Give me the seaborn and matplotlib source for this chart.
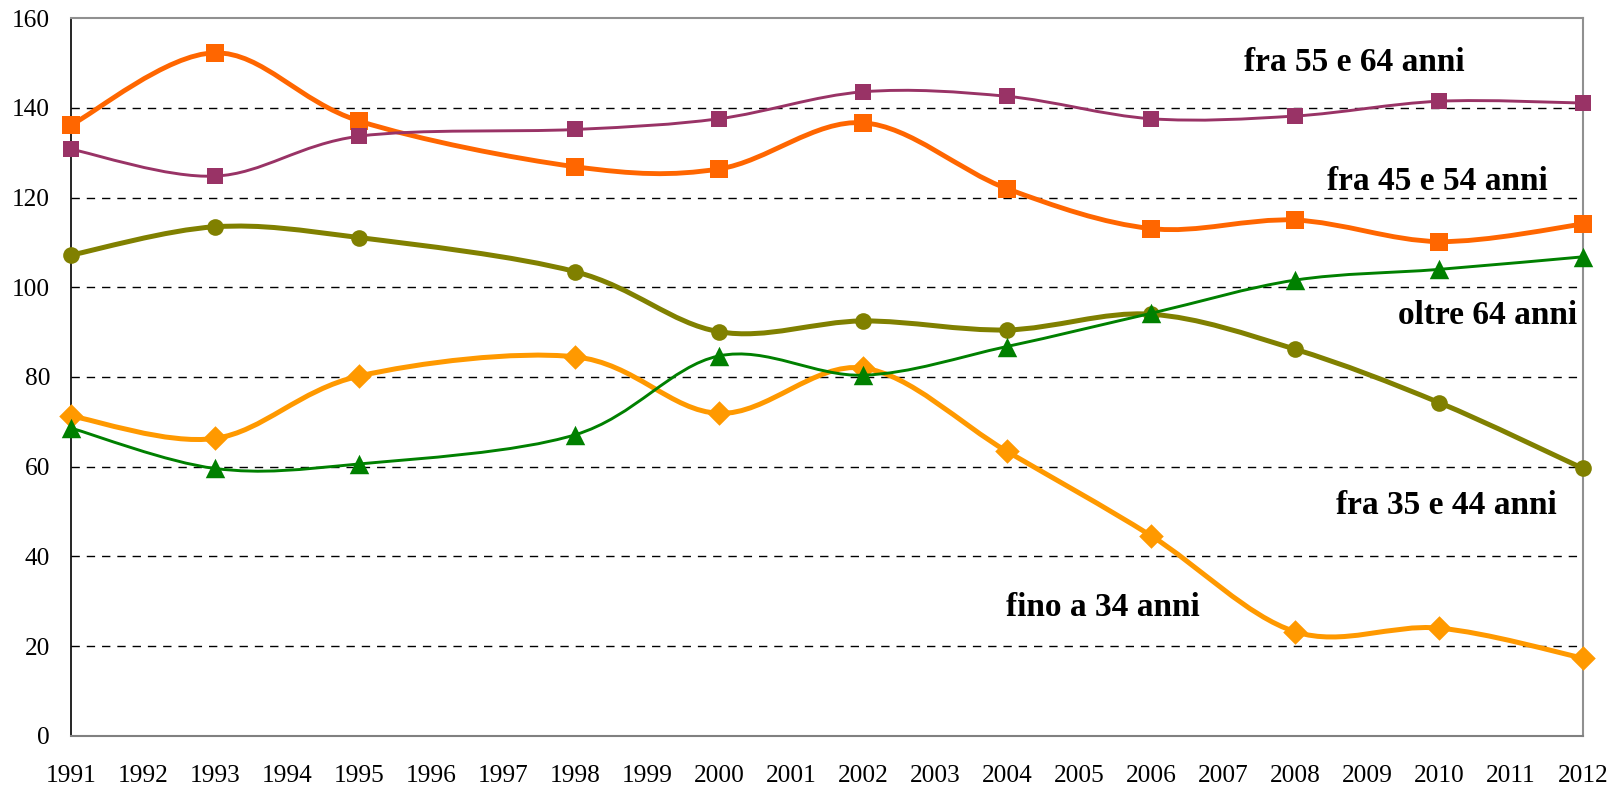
import numpy as np
import pandas as pd
import matplotlib
matplotlib.use("Agg")
import matplotlib.pyplot as plt
import seaborn as sns
from matplotlib.path import Path
from matplotlib.patches import PathPatch

# anni con dato (l'asse e' a scala di date, quindi 1995 -> 1998 salta 3 anni)
years = [1991, 1993, 1995, 1998, 2000, 2002, 2004, 2006, 2008, 2010, 2012]

fino_34 = [71.3, 66.3, 80.2, 84.5, 71.9, 82.0, 63.4, 44.6, 23.2, 24.0, 17.3]
fra_35_44 = [107.2, 113.5, 111.1, 103.5, 90.1, 92.5, 90.5, 94.0, 86.2, 74.3, 59.6]
fra_45_54 = [136.2, 152.3, 137.1, 126.9, 126.4, 136.7, 122.0, 113.1, 115.0, 110.2, 114.1]
fra_55_64 = [130.8, 124.8, 133.7, 135.2, 137.6, 143.6, 142.6, 137.6, 138.2, 141.5, 141.1]
oltre_64 = [68.6, 59.6, 60.6, 67.1, 84.7, 80.4, 86.8, 94.2, 101.6, 104.0, 106.8]

series_names = ["fino a 34 anni", "fra 35 e 44 anni", "fra 45 e 54 anni",
                "fra 55 e 64 anni", "oltre 64 anni"]
series_values = [fino_34, fra_35_44, fra_45_54, fra_55_64, oltre_64]

x_ticks = list(range(1991, 2013))
y_ticks = list(range(0, 161, 20))

df = pd.DataFrame({"anno": years * len(series_names),
                   "valore": sum(series_values, []),
                   "serie": np.repeat(series_names, len(years))})

# stile di ogni serie: colore, spessore linea, marker, dimensione marker
styles = {
    "fino a 34 anni":   ("#FF9900", 3.6, "D", 12.5),
    "fra 35 e 44 anni": ("#808000", 3.6, "o", 12),
    "fra 45 e 54 anni": ("#FF6600", 3.5, "s", 12.5),
    "fra 55 e 64 anni": ("#993366", 2.1, "s", 12),
    "oltre 64 anni":    ("#008000", 2.1, "^", 14),
}

# etichette dentro il grafico (anno, valore)
label_pos = {
    "fra 55 e 64 anni": (2008.82, 150.2),
    "fra 45 e 54 anni": (2009.98, 123.7),
    "oltre 64 anni":    (2010.68, 93.7),
    "fra 35 e 44 anni": (2010.1, 51.3),
    "fino a 34 anni":   (2005.33, 28.5),
}


def smooth_path(xs, ys):
    # curva liscia stile Excel: bezier cubiche tra i punti del dato
    pts = np.column_stack([xs, ys]).astype(float)
    n = len(pts)
    verts = [pts[0]]
    codes = [Path.MOVETO]
    for i in range(n - 1):
        p0 = pts[i - 1] if i > 0 else pts[i]
        p1 = pts[i]
        p2 = pts[i + 1]
        p3 = pts[i + 2] if i + 2 < n else pts[i + 1]
        c1 = p1 + (p2 - p0) / 6.0
        c2 = p2 - (p3 - p1) / 6.0
        verts += [c1, c2, p2]
        codes += [Path.CURVE4] * 3
    return Path(verts, codes)


sns.set_style("white")
plt.rcParams['font.family'] = ['Liberation Serif', 'DejaVu Serif']

fig = plt.figure(figsize=(16.23, 7.92), dpi=100)
ax = fig.add_axes([0.04375, 0.0711, 0.9316, 0.9058])

z = 3
for name in series_names:
    color, lw, marker, ms = styles[name]
    sub = df[df["serie"] == name]
    path = smooth_path(sub["anno"].values, sub["valore"].values)
    ax.add_patch(PathPatch(path, facecolor="none", edgecolor=color, lw=lw,
                           zorder=z, capstyle="round", joinstyle="round"))
    sns.scatterplot(data=sub, x="anno", y="valore", color=color, marker=marker,
                    s=ms ** 2, edgecolor=color, linewidth=0, ax=ax, zorder=z + 0.5,
                    legend=False, clip_on=False)
    z += 1

for name, (lx, ly) in label_pos.items():
    ax.text(lx, ly, name, fontsize=24, fontweight="bold", ha="center", va="center",
            color="black", zorder=10)

ax.set_xlim(1991, 2012)
ax.set_ylim(0, 160)
ax.set_xticks(x_ticks)
ax.set_yticks(y_ticks)
ax.set_xticklabels([str(t) for t in x_ticks])
ax.tick_params(axis="both", direction="out", length=9, width=1, colors="black",
               labelsize=18.3)
ax.tick_params(axis="x", pad=12)
ax.tick_params(axis="y", pad=6)

for yv in y_ticks[1:-1]:
    ax.axhline(yv, color="black", lw=1, ls=(0, (6, 5)), zorder=1)

ax.set_xlabel("")
ax.set_ylabel("")
ax.spines["left"].set_color("black")
ax.spines["left"].set_linewidth(1.2)
ax.spines["bottom"].set_color("#808080")
ax.spines["bottom"].set_linewidth(1.5)
ax.spines["top"].set_color("#909090")
ax.spines["top"].set_linewidth(1.5)
ax.spines["right"].set_color("#909090")
ax.spines["right"].set_linewidth(1.5)
for sp in ax.spines.values():
    sp.set_visible(True)

fig.savefig("out.png", dpi=100)
